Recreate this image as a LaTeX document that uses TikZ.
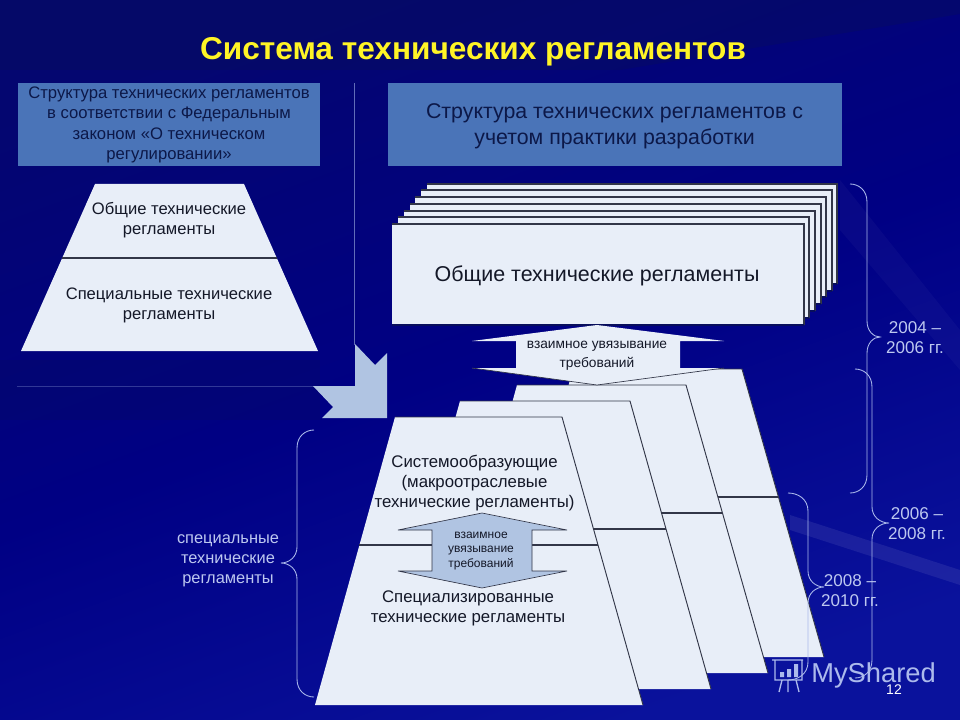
\documentclass[tikz,border=0pt]{standalone}
\usepackage{fontspec}
\setmainfont{Liberation Sans}
\usepackage{tikz}
\usetikzlibrary{calc}
\definecolor{slidedark}{RGB}{8,14,92}
\definecolor{slideleft}{RGB}{4,6,112}
\definecolor{slidemid}{RGB}{0,0,132}
\definecolor{slidelight}{RGB}{10,18,156}
\definecolor{headblue}{RGB}{74,116,184}
\definecolor{paleblue}{RGB}{232,238,248}
\definecolor{arrowblue}{RGB}{176,196,226}
\definecolor{bracecol}{RGB}{172,186,236}
\definecolor{inktext}{RGB}{20,24,40}
\definecolor{headtext}{RGB}{12,24,72}
\definecolor{edgegray}{RGB}{50,54,72}
\newcommand{\yearbrace}[6]{% end x, line x, tip x, top y, tip y, bottom y
    \draw[brace] (#1,#4) .. controls ($(#1,#4)!0.5!(#2,#4)$) and (#2,#4+6) .. (#2,#4+18)
        -- (#2,#5-16) .. controls (#2,#5-6) and ($(#2,#5)!0.5!(#3,#5)$) .. (#3,#5)
        .. controls ($(#2,#5)!0.5!(#3,#5)$) and (#2,#5+6) .. (#2,#5+16)
        -- (#2,#6-18) .. controls (#2,#6-6) and ($(#1,#6)!0.5!(#2,#6)$) .. (#1,#6);
}
\tikzset{
    brace/.style={draw=bracecol, line width=0.65pt},
    sheet/.style={fill=paleblue, draw=none},
    header/.style={fill=headblue, draw=none},
    twoway/.style={draw=edgegray, line width=0.5pt},
    divider/.style={draw=edgegray, line width=0.8pt},
    guide/.style={draw=arrowblue!55!slidemid, line width=0.5pt},
    headlabel/.style={text=headtext, align=center, inner sep=0pt},
    sheetlabel/.style={text=inktext, align=center, inner sep=0pt},
    yearlabel/.style={text=bracecol!80!white, align=center, inner sep=0pt, font=\fontsize{12.8}{15}\selectfont},
}
\begin{document}
\begin{tikzpicture}[x=0.75pt,y=-0.75pt]
    \useasboundingbox (0,0) rectangle (960,720);
    % background
    \shade[left color=slideleft, right color=slidelight, middle color=slidemid, shading angle=20] (0,0) rectangle (960,720);
    \fill[slidedark, opacity=0.4] (0,0) -- (960,0) -- (960,14) -- (620,70) -- (0,70) -- cycle;
    \fill[slidedark, opacity=0.25] (0,360) -- (320,360) -- (320,420) -- (0,420) -- cycle;
    \fill[white, opacity=0.08] (790,515) -- (960,570) -- (960,585) -- (790,530) -- cycle;
    \fill[white, opacity=0.03] (840,180) -- (960,330) -- (960,370) -- (840,230) -- cycle;

    \node[text=yellow!85!white, font=\bfseries\fontsize{23.7}{28}\selectfont, inner sep=0pt] (title) at (473,52) {Система технических регламентов};

    % left column
    \path[header] (18,83) rectangle (320,166);
    \node[headlabel, font=\fontsize{12.5}{15.2}\selectfont] (lawhead) at (169,125) {Структура технических регламентов\\в соответствии с Федеральным\\законом «О техническом\\регулировании»};
    \path[sheet] (95,184) -- (244,184) -- (318,351) -- (21,351) -- cycle;
    \draw[divider] (62,258) -- (277,258);
    \node[sheetlabel, font=\fontsize{12.45}{15}\selectfont] (lawgeneral) at (169,220) {Общие технические\\регламенты};
    \node[sheetlabel, font=\fontsize{12.45}{15}\selectfont] (lawspecial) at (169,305) {Специальные технические\\регламенты};

    \draw[guide] (354,83) -- (354,345);
    \draw[guide, opacity=0.5] (17,386) -- (315,386);
    \fill[arrowblue] (355,344) -- (375,365) -- (387,353) -- (387,418) -- (322,418)
        -- (333,407) -- (313,386) -- (355,386) -- cycle;

    % right column
    \path[header] (388,83) rectangle (842,166);
    \node[headlabel, font=\fontsize{16}{19.5}\selectfont] (practicehead) at (614.5,126) {Структура технических регламентов с\\учетом практики разработки};

    \foreach \lx/\rx/\ty/\by in {427/837/184/284, 421/832/190/291, 415/826/197/297,
        410/821/204/304, 404/815/211/311, 398/809/217/318, 392/804/224/325}{
        \fill[paleblue] (\lx,\ty) rectangle (\rx,\by);
        \draw[edgegray, line width=0.9pt] (\lx,\ty) -- (\rx,\ty) -- (\rx,\by);
        \draw[slidedark, line width=1.2pt] (\lx,\by) -- (\rx,\by);
    }
    \node[sheetlabel, font=\fontsize{16.1}{18}\selectfont] (stackgeneral) at (597,276) {Общие технические регламенты};

    % sheets, back to front
    \foreach \tl/\tr/\bl/\br/\ty/\by/\dy/\dl/\dr in {573/742/494/824/369/657/497/537/778,
        517/686/438/768/385/673/513/484/722, 460/630/380/711/401/689/529/424/666, 395/562/315/643/417/705/545/359/598}{
        \path[sheet] (\tl,\ty) -- (\tr,\ty) -- (\br,\by) -- (\bl,\by) -- cycle;
        \draw[edgegray, line width=0.7pt] (\tl,\ty) -- (\tr,\ty) -- (\br,\by);
        \draw[divider] (\dl,\dy) -- (\dr,\dy);
    }

    \path[sheet] (597,325) -- (724,341) -- (680,341) -- (680,368) -- (724,368) -- (597,385)
        -- (472,368) -- (516,368) -- (516,341) -- (472,341) -- cycle;
    \draw[edgegray, line width=0.5pt] (472,368) -- (597,385) -- (724,368);
    \node[sheetlabel, font=\fontsize{10.3}{14.3}\selectfont] (stacklink) at (597,356) {взаимное увязывание\\требований};

    \node[sheetlabel, font=\fontsize{12.6}{15}\selectfont] (sysforming) at (474.5,483) {Системообразующие\\(макроотраслевые\\технические регламенты)};
    \draw[twoway, fill=arrowblue] (482,513) -- (567,530) -- (532,530) -- (532,571) -- (567,571) -- (482,588)
        -- (398,571) -- (432,571) -- (432,530) -- (398,530) -- cycle;
    \node[sheetlabel, font=\fontsize{9}{11}\selectfont] (sheetlink) at (481,551) {взаимное\\увязывание\\требований};
    \node[sheetlabel, font=\fontsize{12.6}{15}\selectfont] (specialised) at (468,608) {Специализированные\\технические регламенты};

    % braces
    \yearbrace{850}{867}{880}{184}{337}{493}
    \yearbrace{855}{872}{889}{369}{523}{678}
    \yearbrace{788}{808}{824}{493}{587}{680}
    \yearbrace{314}{297}{281}{430}{563}{697}
    \node[yearlabel] (years0406) at (915,338) {2004 –\\2006 гг.};
    \node[yearlabel] (years0608) at (917,524) {2006 –\\2008 гг.};
    \node[yearlabel] (years0810) at (850,591) {2008 –\\2010 гг.};
    \node[yearlabel, font=\fontsize{12.3}{15}\selectfont] (specyears) at (228,561) {специальные\\технические\\регламенты};

    % watermark
    \node[text=bracecol, font=\fontsize{20.5}{24}\selectfont, inner sep=0pt, anchor=west] (mark) at (811,675) {MyShared};
    \node[text=white, font=\fontsize{10.5}{12}\selectfont, inner sep=0pt] (slidenum) at (894,690) {12};
    \draw[bracecol, line width=1pt] (772,660) -- (803,660) (775,660) -- (775,680) -- (802,680) -- (802,660) (782,680) -- (779,692) (788,680) -- (788,692) (796,680) -- (799,692);
    \fill[bracecol] (780,672) rectangle (784,677) (787,669) rectangle (791,677) (794,664) rectangle (798,677);
\end{tikzpicture}
\end{document}
